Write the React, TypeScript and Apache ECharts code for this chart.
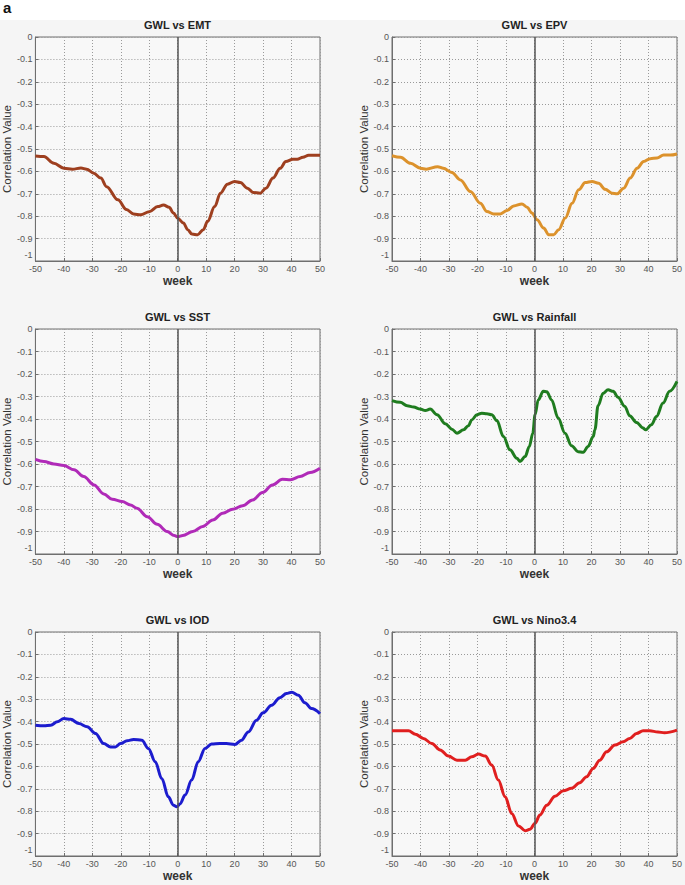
import React, { useEffect, useRef } from "react";
import * as echarts from "echarts";

const titles = ["GWL vs EMT", "GWL vs EPV", "GWL vs SST", "GWL vs Rainfall", "GWL vs IOD", "GWL vs Nino3.4"];
const lineColors = ["#9e3f1f", "#dc922c", "#b02ab8", "#1f7c1f", "#1c1cce", "#e01f1f"];
const xTicks = { min: -50, max: 50, interval: 10 };
const yTicks = { min: -1, max: 0, interval: 0.1 };

const emt = [
  [-50, -0.531], [-47, -0.534], [-43.5, -0.564], [-40, -0.586], [-37, -0.59], [-34, -0.585], [-32, -0.59],
  [-29.5, -0.608], [-27, -0.63], [-25, -0.668], [-21, -0.727], [-18, -0.77], [-15.5, -0.79], [-13, -0.794],
  [-10, -0.78], [-7, -0.757], [-5, -0.75], [-3, -0.76], [-1.5, -0.786], [0, -0.809], [2, -0.83], [3.5, -0.86],
  [5, -0.88], [7, -0.883], [9, -0.86], [10.5, -0.823], [13, -0.757], [15, -0.697], [17.5, -0.657], [20, -0.645],
  [22, -0.65], [24.5, -0.675], [26.5, -0.694], [29, -0.697], [31, -0.675], [33.5, -0.63], [36, -0.586],
  [38, -0.556], [40.5, -0.546], [42, -0.546], [44, -0.537], [46, -0.528], [50, -0.528],
];
const epv = [
  [-50, -0.53], [-47, -0.537], [-43.5, -0.564], [-40, -0.586], [-38, -0.59], [-34, -0.579], [-32, -0.586],
  [-29, -0.605], [-26, -0.638], [-22.5, -0.69], [-19, -0.742], [-16.7, -0.779], [-14.3, -0.79], [-12, -0.79],
  [-9.6, -0.774], [-7.3, -0.754], [-4.4, -0.745], [-2.6, -0.76], [-0.9, -0.786], [0.9, -0.816], [3.2, -0.853],
  [5, -0.883], [6.7, -0.883], [8.5, -0.86], [10.8, -0.808], [13.2, -0.742], [15.5, -0.682], [17.8, -0.65],
  [20.2, -0.645], [22.5, -0.653], [24.8, -0.68], [27.2, -0.697], [29, -0.7], [31.3, -0.675], [33.6, -0.63],
  [36, -0.586], [38.3, -0.556], [40.6, -0.543], [43, -0.54], [45.3, -0.527], [47.6, -0.527], [50, -0.522],
];
const sst = [
  [-50, -0.579], [-47, -0.589], [-43.5, -0.6], [-40, -0.607], [-36.4, -0.626], [-33, -0.656], [-29.4, -0.693],
  [-26, -0.733], [-23, -0.757], [-19.5, -0.767], [-16.6, -0.782], [-14.3, -0.797], [-10.7, -0.834],
  [-7.2, -0.868], [-3.7, -0.9], [-1.2, -0.918], [0, -0.923], [1.8, -0.918], [5.3, -0.9], [8.8, -0.878],
  [12.3, -0.849], [15.8, -0.819], [19.3, -0.801], [22.8, -0.786], [26.3, -0.76], [29.8, -0.727], [33.3, -0.693],
  [36.8, -0.668], [39.7, -0.67], [43, -0.656], [46.5, -0.638], [50, -0.619],
];
const rainfall = [
  [-50, -0.318], [-47.1, -0.326], [-44.7, -0.341], [-42.4, -0.347], [-40.1, -0.356], [-38.3, -0.362],
  [-36.6, -0.356], [-34.2, -0.381], [-31.3, -0.421], [-29, -0.445], [-27.2, -0.463], [-24.9, -0.448],
  [-23.2, -0.43], [-22, -0.404], [-20.2, -0.381], [-18.5, -0.374], [-16.7, -0.377], [-15, -0.381],
  [-13.2, -0.407], [-10.9, -0.478], [-8.6, -0.537], [-6.2, -0.574], [-5.1, -0.589], [-3.3, -0.567],
  [-1.8, -0.522], [-0.6, -0.463], [0.2, -0.381], [1.3, -0.315], [3.1, -0.277], [4.3, -0.279], [6, -0.315],
  [8.3, -0.396], [10.7, -0.463], [13, -0.519], [15.3, -0.545], [17.1, -0.548], [18.8, -0.522], [20.6, -0.478],
  [21.2, -0.448], [22.3, -0.341], [24.1, -0.285], [25.8, -0.27], [27.6, -0.277], [29.3, -0.303], [31.7, -0.344],
  [33.4, -0.386], [35.8, -0.415], [38.1, -0.44], [39, -0.448], [41, -0.426], [42.8, -0.389], [45.1, -0.329],
  [47.4, -0.277], [50, -0.233],
];
const iod = [
  [-50, -0.416], [-47, -0.419], [-44.6, -0.416], [-42.3, -0.401], [-40, -0.386], [-37.6, -0.39], [-34.7, -0.409],
  [-31.8, -0.423], [-28.9, -0.453], [-26, -0.498], [-23.6, -0.513], [-21.9, -0.513], [-20.1, -0.498],
  [-17.8, -0.486], [-15.5, -0.48], [-12.6, -0.483], [-10.3, -0.52], [-7.9, -0.579], [-5.6, -0.654],
  [-3.3, -0.736], [-1.5, -0.773], [-0.3, -0.78], [0.8, -0.768], [2.6, -0.728], [4.9, -0.661], [7.2, -0.579],
  [9.6, -0.52], [11.9, -0.5], [14.8, -0.498], [17.1, -0.498], [20.1, -0.502], [22.4, -0.483], [24.8, -0.446],
  [27.7, -0.394], [30, -0.361], [33, -0.327], [35.9, -0.293], [38.2, -0.275], [40.1, -0.269], [42.4, -0.282],
  [44.7, -0.316], [47, -0.342], [50, -0.364],
];
const nino = [
  [-50, -0.441], [-47.1, -0.441], [-44.2, -0.441], [-41.8, -0.456], [-39, -0.475], [-36, -0.498], [-33.1, -0.527],
  [-30.2, -0.554], [-27.2, -0.572], [-24.3, -0.572], [-22, -0.557], [-19.7, -0.545], [-17.3, -0.554],
  [-15, -0.594], [-12.7, -0.661], [-10.3, -0.736], [-8, -0.81], [-5.6, -0.866], [-3.3, -0.887], [-1.6, -0.881],
  [0.2, -0.854], [1.9, -0.817], [4.3, -0.773], [7.2, -0.733], [10.1, -0.709], [13, -0.698], [15.9, -0.673],
  [18.3, -0.646], [20.6, -0.609], [22.9, -0.572], [25.3, -0.535], [28.2, -0.505], [31.1, -0.49], [33.4, -0.475],
  [35.8, -0.453], [38.1, -0.441], [40.4, -0.441], [43.3, -0.446], [45.6, -0.45], [50, -0.438],
];
const seriesData = [emt, epv, sst, rainfall, iod, nino];

// layout of the six panels (left, top, width, height)
const panels = [
  { left: 35, top: 37, width: 285, height: 224 },
  { left: 392, top: 37, width: 285, height: 224 },
  { left: 35, top: 329, width: 285, height: 225 },
  { left: 392, top: 329, width: 285, height: 225 },
  { left: 35, top: 632, width: 285, height: 224 },
  { left: 392, top: 632, width: 285, height: 224 },
];

const FONT = "Arial, 'Liberation Sans', Helvetica, sans-serif";

export default function App() {
  const ref = useRef<HTMLDivElement>(null);
  useEffect(() => {
    document.body.style.margin = "0";
    if (!ref.current) return;
    const chart = echarts.init(ref.current, null, { renderer: "svg" });
    const grids = panels.map((p) => ({
      left: p.left, top: p.top, width: p.width, height: p.height,
      show: true, borderColor: "#6f6f6f", borderWidth: 1, backgroundColor: "#f8f8f8",
    }));
    const xAxes = panels.map((_, i) => ({
      type: "value", gridIndex: i, min: xTicks.min, max: xTicks.max, interval: xTicks.interval,
      name: "week", nameLocation: "middle", nameGap: 14,
      nameTextStyle: { fontSize: 12, fontWeight: "bold", color: "#333", fontFamily: FONT },
      axisLine: { show: true, onZero: false, lineStyle: { color: "#6f6f6f", width: 1 } },
      axisTick: { show: true, inside: true, length: 3, lineStyle: { color: "#6f6f6f" } },
      axisLabel: { fontSize: 9, color: "#555", margin: 3, fontFamily: FONT },
      splitLine: { show: true, lineStyle: { type: [1, 2], color: "#9a9a9a", width: 1 } },
    }));
    const yAxes = panels.map((_, i) => ({
      type: "value", gridIndex: i, min: yTicks.min, max: yTicks.max, interval: yTicks.interval,
      name: "Correlation Value", nameLocation: "middle", nameGap: 20,
      nameTextStyle: { fontSize: 11.5, color: "#333", fontFamily: FONT },
      axisLine: { show: true, onZero: false, lineStyle: { color: "#6f6f6f", width: 1 } },
      axisTick: { show: true, inside: true, length: 3, lineStyle: { color: "#6f6f6f" } },
      axisLabel: {
        fontSize: 9, color: "#555", margin: 3, fontFamily: FONT,
        formatter: (v: number) => (Math.abs(v + 1) < 1e-9 ? "{low|-1}" : String(Math.round(v * 10) / 10)),
        rich: { low: { fontSize: 9, color: "#555", fontFamily: FONT, padding: [0, 0, 12, 0] } },
      },
      splitLine: { show: true, lineStyle: { type: [1, 2], color: "#9a9a9a", width: 1 } },
    }));
    const series = seriesData.map((d, i) => ({
      type: "line", xAxisIndex: i, yAxisIndex: i, data: d, showSymbol: false,
      smooth: 0.35, smoothMonotone: "x",
      lineStyle: { color: lineColors[i], width: 3 },
      markLine: {
        silent: true, symbol: "none", label: { show: false },
        lineStyle: { color: "#555", width: 1.5, type: "solid" },
        data: [{ xAxis: 0 }],
      },
    }));
    const titleTexts = panels.map((p, i) => ({
      type: "text", x: p.left + p.width / 2, y: p.top - 12,
      style: {
        text: titles[i], fill: "#222", fontSize: 11, fontWeight: "bold", fontFamily: FONT,
        textAlign: "center", textVerticalAlign: "middle", align: "center", verticalAlign: "middle",
      },
    }));
    chart.setOption({
      animation: false,
      backgroundColor: "#f5f5f5",
      grid: grids,
      xAxis: xAxes,
      yAxis: yAxes,
      series,
      graphic: [
        { type: "rect", z: -10, shape: { x: 0, y: 0, width: 685, height: 20 }, style: { fill: "#ffffff" } },
        {
          type: "text", x: 3, y: 0,
          style: { text: "a", fill: "#111", fontSize: 15, fontWeight: "bold", fontFamily: FONT },
        },
        ...titleTexts,
      ],
    });
    return () => chart.dispose();
  }, []);
  return <div ref={ref} style={{ width: 685, height: 885 }} />;
}
